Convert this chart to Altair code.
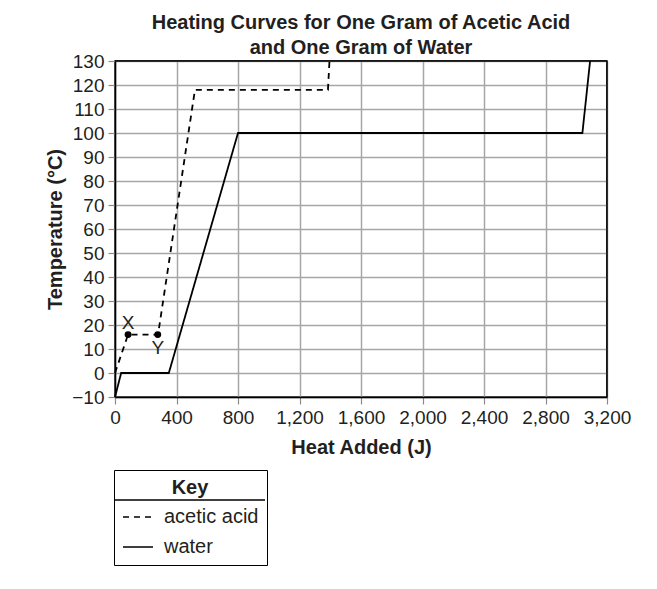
import altair as alt
import pandas as pd

# ---- data ----
water_heat = [0, 40, 350, 800, 3040, 3090]
water_temp = [-10, 0, 0, 100, 100, 130]
acid_heat = [0, 85, 280, 520, 1385, 1395]
acid_temp = [0, 16, 16, 118, 118, 130]
point_labels = ["X", "Y"]
point_heat = [85, 278]
point_temp = [16, 16]
x_ticks = [0, 400, 800, 1200, 1600, 2000, 2400, 2800, 3200]
y_ticks = [-10, 0, 10, 20, 30, 40, 50, 60, 70, 80, 90, 100, 110, 120, 130]
series_names = ["acetic acid", "water"]

FONT = "Liberation Sans"
TXT = "#231f20"

rows = []
for i, (h, t) in enumerate(zip(acid_heat, acid_temp)):
    rows.append({"heat": h, "temp": t, "substance": "acetic acid", "order": i})
for i, (h, t) in enumerate(zip(water_heat, water_temp)):
    rows.append({"heat": h, "temp": t, "substance": "water", "order": i})
lines_df = pd.DataFrame(rows)
pts_df = pd.DataFrame({"label": point_labels, "heat": point_heat, "temp": point_temp})

xscale = alt.Scale(domain=[0, 3200], nice=False, zero=False)
yscale = alt.Scale(domain=[-10, 130], nice=False, zero=False)

x_axis = alt.Axis(values=x_ticks, format=",.0f", title="Heat Added (J)",
                  labelOverlap=False, labelFlush=False,
                  titleX=246, titleY=50, titleBaseline="middle", titleAlign="center")
y_axis = alt.Axis(values=y_ticks, format="d", title="Temperature (°C)",
                  labelOverlap=False, labelFlush=False,
                  titleX=-60, titleY=168, titleBaseline="middle", titleAlign="center",
                  titleAngle=270)

def xq(f="heat"):
    return alt.X(f + ":Q", scale=xscale, axis=x_axis, title="Heat Added (J)")

def yq(f="temp"):
    return alt.Y(f + ":Q", scale=yscale, axis=y_axis, title="Temperature (°C)")

lines = alt.Chart(lines_df).mark_line(strokeWidth=1.8, color="black").encode(
    x=xq(),
    y=yq(),
    order="order:Q",
    strokeDash=alt.StrokeDash(
        "substance:N",
        scale=alt.Scale(domain=series_names, range=[[6, 5], [1, 0]]),
        legend=alt.Legend(
            title="Key", orient="none", legendX=-1, legendY=409, direction="vertical",
            symbolType="stroke", symbolSize=900, symbolStrokeWidth=1.5,
            symbolStrokeColor="black", labelFontSize=20, labelFont=FONT, labelColor=TXT,
            titleFontSize=20, titleFont=FONT, titleFontWeight="bold", titleColor=TXT,
            titleAnchor="middle", titlePadding=3, padding=8, strokeColor="black",
            rowPadding=4, labelOffset=10,
        ),
    ),
)

top_border = alt.Chart(pd.DataFrame({"temp": [130]})).mark_rule(color="black", strokeWidth=1.5).encode(
    y=yq())
right_border = alt.Chart(pd.DataFrame({"heat": [3200]})).mark_rule(color="black", strokeWidth=1.5).encode(
    x=xq())

points = alt.Chart(pts_df).mark_point(filled=True, size=48, color="black", opacity=1).encode(
    x=xq(), y=yq())

lab_x = alt.Chart(pts_df).transform_filter(alt.datum.label == "X").mark_text(
    fontSize=19, font=FONT, color=TXT, dy=-12).encode(x=xq(), y=yq(), text="label:N")
lab_y = alt.Chart(pts_df).transform_filter(alt.datum.label == "Y").mark_text(
    fontSize=19, font=FONT, color=TXT, dy=13).encode(x=xq(), y=yq(), text="label:N")

sep = alt.Chart(pd.DataFrame({"a": [0]})).mark_rule(color="black", strokeWidth=1.5).encode(
    x=alt.value(-1), x2=alt.value(150), y=alt.value(439))

chart = alt.layer(lines, top_border, right_border, points, lab_x, lab_y, sep).properties(
    width=492, height=336,
    autosize=alt.AutoSizeParams(type="none"),
    padding={"left": 107, "top": 53, "right": 42, "bottom": 185},
    title=alt.TitleParams(
        ["Heating Curves for One Gram of Acetic Acid", "and One Gram of Water"],
        fontSize=20, fontWeight="bold", font=FONT, color=TXT, anchor="middle",
        lineHeight=25, offset=8, dy=14,
    ),
).configure_view(stroke="black", strokeWidth=1.5).configure_axis(
    grid=True, gridColor="#a6a6a6", gridWidth=1.5, gridOpacity=1,
    domainColor="black", domainWidth=1.5,
    tickColor="#8a8a8a", tickSize=7, tickWidth=1.2,
    labelFont=FONT, labelFontSize=19, labelColor=TXT, labelPadding=4,
    titleFont=FONT, titleFontSize=20, titleFontWeight="bold", titleColor=TXT,
    labelOverlap=False,
)

chart.save("out.html", embed_options={"renderer": "svg", "actions": False})
